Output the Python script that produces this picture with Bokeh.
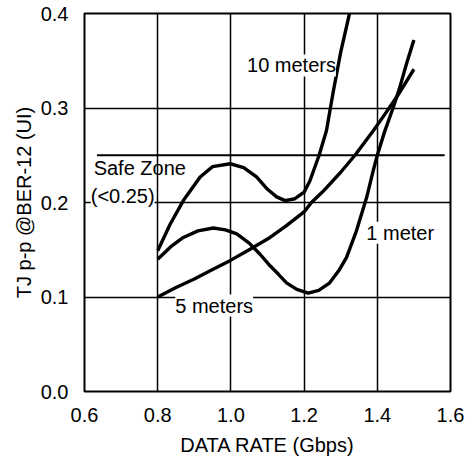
from bokeh.plotting import figure
from bokeh.models import Label, FixedTicker, Range1d, CustomJSTickFormatter
from bokeh.embed import file_html
from bokeh.resources import INLINE

# Data
x_10m = [0.80, 0.834, 0.87, 0.916, 0.95, 0.998, 1.035, 1.07, 1.10, 1.125, 1.148, 1.175, 1.20, 1.216,
         1.229, 1.241, 1.261, 1.28, 1.30, 1.32, 1.335]
y_10m = [0.149, 0.177, 0.202, 0.227, 0.238, 0.241, 0.237, 0.227, 0.214, 0.206, 0.202, 0.204, 0.211, 0.223,
         0.237, 0.250, 0.276, 0.318, 0.359, 0.393, 0.420]

x_1m = [0.80, 0.835, 0.87, 0.91, 0.952, 0.985, 1.016, 1.05, 1.079, 1.107, 1.13, 1.152, 1.18, 1.211,
        1.24, 1.27, 1.295, 1.316, 1.343, 1.371, 1.389, 1.40, 1.42, 1.443, 1.46, 1.48, 1.50]
y_1m = [0.140, 0.153, 0.163, 0.170, 0.173, 0.171, 0.1667, 0.157, 0.1455, 0.133, 0.124, 0.115, 0.108, 0.104,
        0.107, 0.115, 0.128, 0.142, 0.170, 0.2055, 0.234, 0.250, 0.275, 0.300, 0.320, 0.347, 0.372]

x_5m = [0.80, 0.85, 0.90, 0.95, 1.00, 1.05, 1.107, 1.15, 1.20, 1.22, 1.25, 1.30, 1.339, 1.389, 1.42, 1.457, 1.50]
y_5m = [0.100, 0.110, 0.119, 0.129, 0.139, 0.150, 0.163, 0.175, 0.190, 0.200, 0.211, 0.232, 0.250, 0.276,
        0.293, 0.314, 0.341]

safe_x = [0.634, 1.584]
safe_y = [0.25, 0.25]

x_ticks = [0.6, 0.8, 1.0, 1.2, 1.4, 1.6]
y_ticks = [0.0, 0.1, 0.2, 0.3, 0.4]

FONT = "Liberation Sans"
FS = "20px"

p = figure(width=466, height=460, output_backend="svg", toolbar_location=None,
           x_range=Range1d(0.6, 1.6), y_range=Range1d(0.0, 0.4),
           min_border_left=84, min_border_right=16, min_border_top=13, min_border_bottom=69)

p.outline_line_color = "black"
p.outline_line_width = 2
p.background_fill_color = "white"
p.border_fill_color = "white"

for ax in (p.xaxis[0], p.yaxis[0]):
    ax.axis_line_color = None
    ax.major_tick_line_color = None
    ax.minor_tick_line_color = None
    ax.major_label_text_font = FONT
    ax.major_label_text_font_size = FS
    ax.major_label_text_color = "black"
    ax.axis_label_text_font = FONT
    ax.axis_label_text_font_size = FS
    ax.axis_label_text_font_style = "normal"
    ax.axis_label_text_color = "black"

p.xaxis.ticker = FixedTicker(ticks=x_ticks)
p.yaxis.ticker = FixedTicker(ticks=y_ticks)
p.xaxis.formatter = CustomJSTickFormatter(code="return tick.toFixed(1);")
p.yaxis.formatter = CustomJSTickFormatter(code="return tick.toFixed(1);")
p.xaxis.major_label_standoff = 10
p.yaxis.major_label_standoff = 10
p.xaxis.axis_label = "DATA RATE (Gbps)"
p.yaxis.axis_label = "TJ p-p @BER-12 (UI)"
p.xaxis.axis_label_standoff = 9
p.yaxis.axis_label_standoff = 3

p.xgrid.grid_line_color = "black"
p.ygrid.grid_line_color = "black"
p.xgrid.grid_line_width = 1.5
p.ygrid.grid_line_width = 1.5
p.xgrid.grid_line_alpha = 1.0
p.ygrid.grid_line_alpha = 1.0

p.line(safe_x, safe_y, line_color="black", line_width=2)

lw = 3.4
p.line(x_10m, y_10m, line_color="black", line_width=lw, line_join="round")
p.line(x_1m, y_1m, line_color="black", line_width=lw, line_join="round")
p.line(x_5m, y_5m, line_color="black", line_width=lw, line_join="round")

def lab(x, y, t, bg=True):
    l = Label(x=x, y=y, text=t, text_font=FONT, text_font_size=FS,
              text_color="black", text_baseline="middle", text_align="left",
              background_fill_color="white" if bg else None,
              background_fill_alpha=1.0)
    p.add_layout(l)

lab(1.044, 0.345, "10 meters")
lab(0.625, 0.236, "Safe Zone", bg=False)
lab(0.617, 0.207, "(<0.25)")
lab(1.370, 0.168, "1 meter")
lab(0.848, 0.091, "5 meters")

open("out.html", "w").write(file_html(p, INLINE))
